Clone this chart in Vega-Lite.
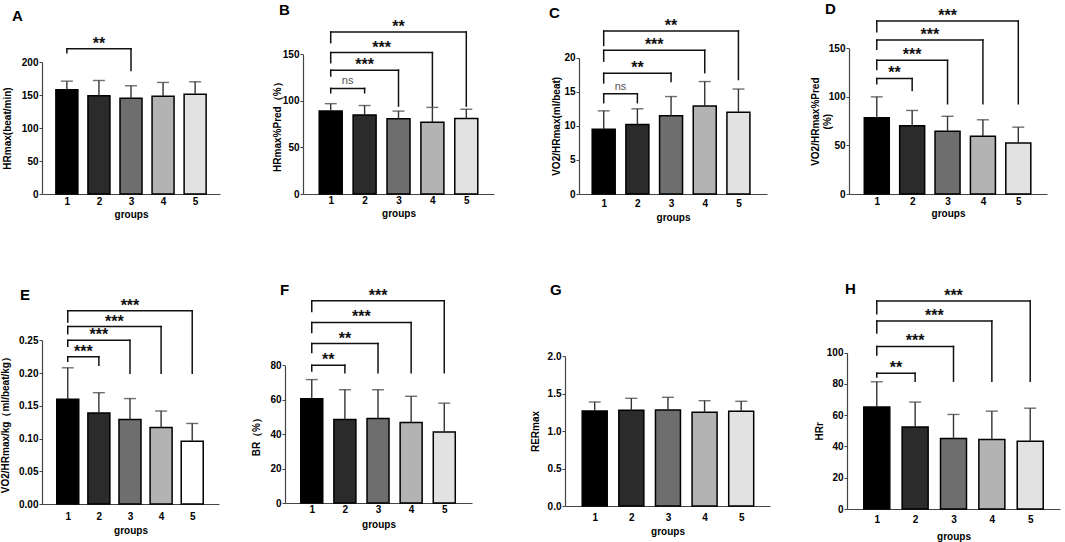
{
  "$schema": "https://vega.github.io/schema/vega-lite/v6.json",
  "background": "white",
  "padding": {"left": 0, "top": 2, "right": 5, "bottom": 5},
  "datasets": {
    "bars": [
      {"p": "A", "g": 1, "m": 158, "u": 171}, {"p": "A", "g": 2, "m": 149, "u": 172}, {"p": "A", "g": 3, "m": 145, "u": 164}, {"p": "A", "g": 4, "m": 148, "u": 169}, {"p": "A", "g": 5, "m": 151, "u": 170},
      {"p": "B", "g": 1, "m": 89, "u": 97}, {"p": "B", "g": 2, "m": 84.7, "u": 95}, {"p": "B", "g": 3, "m": 80.7, "u": 89}, {"p": "B", "g": 4, "m": 77, "u": 93}, {"p": "B", "g": 5, "m": 81, "u": 91},
      {"p": "C", "g": 1, "m": 9.5, "u": 12.2}, {"p": "C", "g": 2, "m": 10.2, "u": 12.5}, {"p": "C", "g": 3, "m": 11.5, "u": 14.3}, {"p": "C", "g": 4, "m": 12.9, "u": 16.5}, {"p": "C", "g": 5, "m": 12.0, "u": 15.4},
      {"p": "D", "g": 1, "m": 78.4, "u": 100}, {"p": "D", "g": 2, "m": 70.2, "u": 86}, {"p": "D", "g": 3, "m": 64.7, "u": 80}, {"p": "D", "g": 4, "m": 59.5, "u": 76.4}, {"p": "D", "g": 5, "m": 52.6, "u": 68.8},
      {"p": "E", "g": 1, "m": 0.160, "u": 0.208}, {"p": "E", "g": 2, "m": 0.139, "u": 0.170}, {"p": "E", "g": 3, "m": 0.129, "u": 0.161}, {"p": "E", "g": 4, "m": 0.117, "u": 0.142}, {"p": "E", "g": 5, "m": 0.096, "u": 0.123},
      {"p": "F", "g": 1, "m": 60.6, "u": 71.7}, {"p": "F", "g": 2, "m": 48.5, "u": 65.8}, {"p": "F", "g": 3, "m": 49.1, "u": 65.8}, {"p": "F", "g": 4, "m": 46.8, "u": 62}, {"p": "F", "g": 5, "m": 41.2, "u": 58},
      {"p": "G", "g": 1, "m": 1.267, "u": 1.387}, {"p": "G", "g": 2, "m": 1.276, "u": 1.436}, {"p": "G", "g": 3, "m": 1.28, "u": 1.449}, {"p": "G", "g": 4, "m": 1.249, "u": 1.404}, {"p": "G", "g": 5, "m": 1.262, "u": 1.396},
      {"p": "H", "g": 1, "m": 65.2, "u": 81.4}, {"p": "H", "g": 2, "m": 52.4, "u": 68.4}, {"p": "H", "g": 3, "m": 45.1, "u": 60.5}, {"p": "H", "g": 4, "m": 44.4, "u": 62.6}, {"p": "H", "g": 5, "m": 43.4, "u": 64.5}
    ],
    "brk": [
      {"p": "A", "g1": 1, "g2": 3, "top": 220, "lo1": 214, "lo2": 187, "label": "**"},
      {"p": "B", "g1": 1, "g2": 2, "top": 113.4, "lo1": 108.7, "lo2": 108.7, "label": "ns"},
      {"p": "B", "g1": 1, "g2": 3, "top": 133, "lo1": 126.7, "lo2": 94.4, "label": "***"},
      {"p": "B", "g1": 1, "g2": 4, "top": 151.8, "lo1": 141, "lo2": 94.4, "label": "***"},
      {"p": "B", "g1": 1, "g2": 5, "top": 174, "lo1": 162.5, "lo2": 94.4, "label": "**"},
      {"p": "C", "g1": 1, "g2": 2, "top": 14.7, "lo1": 13.4, "lo2": 13.4, "label": "ns"},
      {"p": "C", "g1": 1, "g2": 3, "top": 17.7, "lo1": 16.3, "lo2": 16.5, "label": "**"},
      {"p": "C", "g1": 1, "g2": 4, "top": 21.1, "lo1": 19.5, "lo2": 17.8, "label": "***"},
      {"p": "C", "g1": 1, "g2": 5, "top": 23.9, "lo1": 21.8, "lo2": 16.8, "label": "**"},
      {"p": "D", "g1": 1, "g2": 2, "top": 119, "lo1": 113.5, "lo2": 106.6, "label": "**"},
      {"p": "D", "g1": 1, "g2": 3, "top": 137.6, "lo1": 128.3, "lo2": 92.9, "label": "***"},
      {"p": "D", "g1": 1, "g2": 4, "top": 158.6, "lo1": 149, "lo2": 92.9, "label": "***"},
      {"p": "D", "g1": 1, "g2": 5, "top": 178, "lo1": 167, "lo2": 92.9, "label": "***"},
      {"p": "E", "g1": 1, "g2": 2, "top": 0.225, "lo1": 0.218, "lo2": 0.212, "label": "***"},
      {"p": "E", "g1": 1, "g2": 3, "top": 0.25, "lo1": 0.241, "lo2": 0.1995, "label": "***"},
      {"p": "E", "g1": 1, "g2": 4, "top": 0.271, "lo1": 0.26, "lo2": 0.1995, "label": "***"},
      {"p": "E", "g1": 1, "g2": 5, "top": 0.295, "lo1": 0.278, "lo2": 0.1995, "label": "***"},
      {"p": "F", "g1": 1, "g2": 2, "top": 80, "lo1": 76.7, "lo2": 75.7, "label": "**"},
      {"p": "F", "g1": 1, "g2": 3, "top": 92.6, "lo1": 87.4, "lo2": 75.7, "label": "**"},
      {"p": "F", "g1": 1, "g2": 4, "top": 104.9, "lo1": 99, "lo2": 75.7, "label": "***"},
      {"p": "F", "g1": 1, "g2": 5, "top": 117.5, "lo1": 111.3, "lo2": 75.7, "label": "***"},
      {"p": "H", "g1": 1, "g2": 2, "top": 86.8, "lo1": 84.4, "lo2": 81.8, "label": "**"},
      {"p": "H", "g1": 1, "g2": 3, "top": 104, "lo1": 98.5, "lo2": 81.8, "label": "***"},
      {"p": "H", "g1": 1, "g2": 4, "top": 120.3, "lo1": 112.6, "lo2": 81.8, "label": "***"},
      {"p": "H", "g1": 1, "g2": 5, "top": 133, "lo1": 125, "lo2": 81.8, "label": "***"}
    ]
  },
  "columns": 4,
  "align": "each",
  "bounds": "flush",
  "spacing": {"row": 82, "column": 0},
  "resolve": {"scale": {"color": "independent"}},
  "concat": [
    {
      "width": 243, "height": 179,
      "title": {"text": "A", "dx": -30, "dy": 13},
      "layer": [
        {
          "data": {"name": "bars"},
          "transform": [{"filter": "datum.p == 'A'"}],
          "layer": [
            {"mark": {"type": "bar", "orient": "vertical", "size": 22, "stroke": "#000", "strokeWidth": 1.5},
             "encoding": {
               "x": {"field": "g", "type": "quantitative", "scale": {"domain": [0.38, 5.62], "range": [0, 178], "nice": false, "zero": false}, "axis": {"values": [1, 2, 3, 4, 5], "format": "d", "title": "groups", "labelPadding": 2.5, "titlePadding": 3}},
               "y": {"field": "m", "type": "quantitative", "stack": null, "scale": {"domain": [0, 200], "range": [179, 47], "nice": false}, "axis": {"values": [0, 50, 100, 150, 200], "title": "HRmax(beat/min)", "titlePadding": 9}},
               "color": {"field": "g", "type": "ordinal", "scale": {"domain": [1, 2, 3, 4, 5], "range": ["#000000", "#2b2b2b", "#6e6e6e", "#b3b3b3", "#e2e2e2"]}, "legend": null}
             }},
            {"mark": {"type": "rule", "color": "#333", "strokeWidth": 1.4},
             "encoding": {"x": {"field": "g", "type": "quantitative"}, "y": {"field": "m", "type": "quantitative"}, "y2": {"field": "u"}}},
            {"mark": {"type": "tick", "orient": "horizontal", "size": 12, "thickness": 1.4, "color": "#333"},
             "encoding": {"x": {"field": "g", "type": "quantitative"}, "y": {"field": "u", "type": "quantitative"}}}
          ]
        },
        {
          "data": {"name": "brk"},
          "transform": [{"filter": "datum.p == 'A'"}, {"calculate": "(datum.g1 + datum.g2) / 2", "as": "mid"}],
          "layer": [
            {"mark": {"type": "rule", "color": "#111", "strokeWidth": 1.5, "strokeCap": "square"},
             "encoding": {"x": {"field": "g1", "type": "quantitative"}, "x2": {"field": "g2"}, "y": {"field": "top", "type": "quantitative"}}},
            {"mark": {"type": "rule", "color": "#111", "strokeWidth": 1.5, "strokeCap": "square"},
             "encoding": {"x": {"field": "g1", "type": "quantitative"}, "y": {"field": "top", "type": "quantitative"}, "y2": {"field": "lo1"}}},
            {"mark": {"type": "rule", "color": "#111", "strokeWidth": 1.5, "strokeCap": "square"},
             "encoding": {"x": {"field": "g2", "type": "quantitative"}, "y": {"field": "top", "type": "quantitative"}, "y2": {"field": "lo2"}}},
            {"transform": [{"filter": "datum.label != 'ns'"}],
             "mark": {"type": "text", "font": "Liberation Sans", "fontWeight": "bold", "fontSize": 16, "baseline": "alphabetic", "dy": 0, "color": "#111"},
             "encoding": {"x": {"field": "mid", "type": "quantitative"}, "y": {"field": "top", "type": "quantitative"}, "text": {"field": "label"}}}
          ]
        }
      ]
    },
    {
      "width": 280, "height": 179,
      "title": {"text": "B", "dx": -6, "dy": 7},
      "layer": [
        {
          "data": {"name": "bars"},
          "transform": [{"filter": "datum.p == 'B'"}],
          "layer": [
            {"mark": {"type": "bar", "orient": "vertical", "size": 23, "stroke": "#000", "strokeWidth": 1.5},
             "encoding": {
               "x": {"field": "g", "type": "quantitative", "scale": {"domain": [0.33, 5.67], "range": [18, 209], "nice": false, "zero": false}, "axis": {"values": [1, 2, 3, 4, 5], "format": "d", "title": "groups", "labelPadding": 1.5, "titlePadding": 3}},
               "y": {"field": "m", "type": "quantitative", "stack": null, "scale": {"domain": [0, 150], "range": [179, 39.3], "nice": false}, "axis": {"values": [0, 50, 100, 150], "title": "HRmax%Pred（%）", "titlePadding": 0, "offset": -18}},
               "color": {"field": "g", "type": "ordinal", "scale": {"domain": [1, 2, 3, 4, 5], "range": ["#000000", "#2b2b2b", "#6e6e6e", "#b3b3b3", "#e2e2e2"]}, "legend": null}
             }},
            {"mark": {"type": "rule", "color": "#333", "strokeWidth": 1.4},
             "encoding": {"x": {"field": "g", "type": "quantitative"}, "y": {"field": "m", "type": "quantitative"}, "y2": {"field": "u"}}},
            {"mark": {"type": "tick", "orient": "horizontal", "size": 12, "thickness": 1.4, "color": "#333"},
             "encoding": {"x": {"field": "g", "type": "quantitative"}, "y": {"field": "u", "type": "quantitative"}}}
          ]
        },
        {
          "data": {"name": "brk"},
          "transform": [{"filter": "datum.p == 'B'"}, {"calculate": "(datum.g1 + datum.g2) / 2", "as": "mid"}],
          "layer": [
            {"mark": {"type": "rule", "color": "#111", "strokeWidth": 1.5, "strokeCap": "square"},
             "encoding": {"x": {"field": "g1", "type": "quantitative"}, "x2": {"field": "g2"}, "y": {"field": "top", "type": "quantitative"}}},
            {"mark": {"type": "rule", "color": "#111", "strokeWidth": 1.5, "strokeCap": "square"},
             "encoding": {"x": {"field": "g1", "type": "quantitative"}, "y": {"field": "top", "type": "quantitative"}, "y2": {"field": "lo1"}}},
            {"mark": {"type": "rule", "color": "#111", "strokeWidth": 1.5, "strokeCap": "square"},
             "encoding": {"x": {"field": "g2", "type": "quantitative"}, "y": {"field": "top", "type": "quantitative"}, "y2": {"field": "lo2"}}},
            {"transform": [{"filter": "datum.label != 'ns'"}],
             "mark": {"type": "text", "font": "Liberation Sans", "fontWeight": "bold", "fontSize": 16, "baseline": "alphabetic", "dy": 0, "color": "#111"},
             "encoding": {"x": {"field": "mid", "type": "quantitative"}, "y": {"field": "top", "type": "quantitative"}, "text": {"field": "label"}}},
            {"transform": [{"filter": "datum.label == 'ns'"}],
             "mark": {"type": "text", "font": "Liberation Sans", "fontSize": 11, "baseline": "alphabetic", "dy": -4, "color": "#555"},
             "encoding": {"x": {"field": "mid", "type": "quantitative"}, "y": {"field": "top", "type": "quantitative"}, "text": {"field": "label"}}}
          ]
        }
      ]
    },
    {
      "width": 282, "height": 179,
      "title": {"text": "C", "dx": -16, "dy": 10},
      "layer": [
        {
          "data": {"name": "bars"},
          "transform": [{"filter": "datum.p == 'C'"}],
          "layer": [
            {"mark": {"type": "bar", "orient": "vertical", "size": 23, "stroke": "#000", "strokeWidth": 1.5},
             "encoding": {
               "x": {"field": "g", "type": "quantitative", "scale": {"domain": [0.415, 5.7], "range": [14, 202], "nice": false, "zero": false}, "axis": {"values": [1, 2, 3, 4, 5], "format": "d", "title": "groups", "labelPadding": 4.5, "titlePadding": 3.5}},
               "y": {"field": "m", "type": "quantitative", "stack": null, "scale": {"domain": [0, 20], "range": [179, 42.7], "nice": false}, "axis": {"values": [0, 5, 10, 15, 20], "title": "VO2/HRmax(ml/beat)", "titlePadding": 2, "offset": -14}},
               "color": {"field": "g", "type": "ordinal", "scale": {"domain": [1, 2, 3, 4, 5], "range": ["#000000", "#2b2b2b", "#6e6e6e", "#b3b3b3", "#e2e2e2"]}, "legend": null}
             }},
            {"mark": {"type": "rule", "color": "#333", "strokeWidth": 1.4},
             "encoding": {"x": {"field": "g", "type": "quantitative"}, "y": {"field": "m", "type": "quantitative"}, "y2": {"field": "u"}}},
            {"mark": {"type": "tick", "orient": "horizontal", "size": 12, "thickness": 1.4, "color": "#333"},
             "encoding": {"x": {"field": "g", "type": "quantitative"}, "y": {"field": "u", "type": "quantitative"}}}
          ]
        },
        {
          "data": {"name": "brk"},
          "transform": [{"filter": "datum.p == 'C'"}, {"calculate": "(datum.g1 + datum.g2) / 2", "as": "mid"}],
          "layer": [
            {"mark": {"type": "rule", "color": "#111", "strokeWidth": 1.5, "strokeCap": "square"},
             "encoding": {"x": {"field": "g1", "type": "quantitative"}, "x2": {"field": "g2"}, "y": {"field": "top", "type": "quantitative"}}},
            {"mark": {"type": "rule", "color": "#111", "strokeWidth": 1.5, "strokeCap": "square"},
             "encoding": {"x": {"field": "g1", "type": "quantitative"}, "y": {"field": "top", "type": "quantitative"}, "y2": {"field": "lo1"}}},
            {"mark": {"type": "rule", "color": "#111", "strokeWidth": 1.5, "strokeCap": "square"},
             "encoding": {"x": {"field": "g2", "type": "quantitative"}, "y": {"field": "top", "type": "quantitative"}, "y2": {"field": "lo2"}}},
            {"transform": [{"filter": "datum.label != 'ns'"}],
             "mark": {"type": "text", "font": "Liberation Sans", "fontWeight": "bold", "fontSize": 16, "baseline": "alphabetic", "dy": 0, "color": "#111"},
             "encoding": {"x": {"field": "mid", "type": "quantitative"}, "y": {"field": "top", "type": "quantitative"}, "text": {"field": "label"}}},
            {"transform": [{"filter": "datum.label == 'ns'"}],
             "mark": {"type": "text", "font": "Liberation Sans", "fontSize": 11, "baseline": "alphabetic", "dy": -4, "color": "#555"},
             "encoding": {"x": {"field": "mid", "type": "quantitative"}, "y": {"field": "top", "type": "quantitative"}, "text": {"field": "label"}}}
          ]
        }
      ]
    },
    {
      "width": 213, "height": 179,
      "title": {"text": "D", "dx": -22, "dy": 13},
      "layer": [
        {
          "data": {"name": "bars"},
          "transform": [{"filter": "datum.p == 'D'"}],
          "layer": [
            {"mark": {"type": "bar", "orient": "vertical", "size": 25, "stroke": "#000", "strokeWidth": 1.5},
             "encoding": {
               "x": {"field": "g", "type": "quantitative", "scale": {"domain": [0.356, 5.67], "range": [2, 200], "nice": false, "zero": false}, "axis": {"values": [1, 2, 3, 4, 5], "format": "d", "title": "groups", "labelPadding": 2.5, "titlePadding": 2}},
               "y": {"field": "m", "type": "quantitative", "stack": null, "scale": {"domain": [0, 150], "range": [179, 33.3], "nice": false}, "axis": {"values": [0, 50, 100, 150], "title": ["VO2/HRmax%Pred", "(%)"], "titlePadding": -4, "offset": -2}},
               "color": {"field": "g", "type": "ordinal", "scale": {"domain": [1, 2, 3, 4, 5], "range": ["#000000", "#2b2b2b", "#6e6e6e", "#b3b3b3", "#e2e2e2"]}, "legend": null}
             }},
            {"mark": {"type": "rule", "color": "#333", "strokeWidth": 1.4},
             "encoding": {"x": {"field": "g", "type": "quantitative"}, "y": {"field": "m", "type": "quantitative"}, "y2": {"field": "u"}}},
            {"mark": {"type": "tick", "orient": "horizontal", "size": 12, "thickness": 1.4, "color": "#333"},
             "encoding": {"x": {"field": "g", "type": "quantitative"}, "y": {"field": "u", "type": "quantitative"}}}
          ]
        },
        {
          "data": {"name": "brk"},
          "transform": [{"filter": "datum.p == 'D'"}, {"calculate": "(datum.g1 + datum.g2) / 2", "as": "mid"}],
          "layer": [
            {"mark": {"type": "rule", "color": "#111", "strokeWidth": 1.5, "strokeCap": "square"},
             "encoding": {"x": {"field": "g1", "type": "quantitative"}, "x2": {"field": "g2"}, "y": {"field": "top", "type": "quantitative"}}},
            {"mark": {"type": "rule", "color": "#111", "strokeWidth": 1.5, "strokeCap": "square"},
             "encoding": {"x": {"field": "g1", "type": "quantitative"}, "y": {"field": "top", "type": "quantitative"}, "y2": {"field": "lo1"}}},
            {"mark": {"type": "rule", "color": "#111", "strokeWidth": 1.5, "strokeCap": "square"},
             "encoding": {"x": {"field": "g2", "type": "quantitative"}, "y": {"field": "top", "type": "quantitative"}, "y2": {"field": "lo2"}}},
            {"transform": [{"filter": "datum.label != 'ns'"}],
             "mark": {"type": "text", "font": "Liberation Sans", "fontWeight": "bold", "fontSize": 16, "baseline": "alphabetic", "dy": 0, "color": "#111"},
             "encoding": {"x": {"field": "mid", "type": "quantitative"}, "y": {"field": "top", "type": "quantitative"}, "text": {"field": "label"}}}
          ]
        }
      ]
    },
    {
      "width": 243, "height": 228,
      "title": {"text": "E", "dx": -22, "dy": 31},
      "layer": [
        {
          "data": {"name": "bars"},
          "transform": [{"filter": "datum.p == 'E'"}],
          "layer": [
            {"mark": {"type": "bar", "orient": "vertical", "size": 22, "stroke": "#000", "strokeWidth": 1.5},
             "encoding": {
               "x": {"field": "g", "type": "quantitative", "scale": {"domain": [0.333, 5.7], "range": [0, 177], "nice": false, "zero": false}, "axis": {"values": [1, 2, 3, 4, 5], "format": "d", "title": "groups", "labelPadding": 7.5, "titlePadding": 3.5}},
               "y": {"field": "m", "type": "quantitative", "stack": null, "scale": {"domain": [0, 0.25], "range": [228, 64.3], "nice": false}, "axis": {"values": [0, 0.05, 0.1, 0.15, 0.2, 0.25], "format": ".2f", "title": "VO2/HRmax/kg（ml/beat/kg）", "titlePadding": 8}},
               "color": {"field": "g", "type": "ordinal", "scale": {"domain": [1, 2, 3, 4, 5], "range": ["#000000", "#2b2b2b", "#6e6e6e", "#b3b3b3", "#ffffff"]}, "legend": null}
             }},
            {"mark": {"type": "rule", "color": "#333", "strokeWidth": 1.4},
             "encoding": {"x": {"field": "g", "type": "quantitative"}, "y": {"field": "m", "type": "quantitative"}, "y2": {"field": "u"}}},
            {"mark": {"type": "tick", "orient": "horizontal", "size": 12, "thickness": 1.4, "color": "#333"},
             "encoding": {"x": {"field": "g", "type": "quantitative"}, "y": {"field": "u", "type": "quantitative"}}}
          ]
        },
        {
          "data": {"name": "brk"},
          "transform": [{"filter": "datum.p == 'E'"}, {"calculate": "(datum.g1 + datum.g2) / 2", "as": "mid"}],
          "layer": [
            {"mark": {"type": "rule", "color": "#111", "strokeWidth": 1.5, "strokeCap": "square"},
             "encoding": {"x": {"field": "g1", "type": "quantitative"}, "x2": {"field": "g2"}, "y": {"field": "top", "type": "quantitative"}}},
            {"mark": {"type": "rule", "color": "#111", "strokeWidth": 1.5, "strokeCap": "square"},
             "encoding": {"x": {"field": "g1", "type": "quantitative"}, "y": {"field": "top", "type": "quantitative"}, "y2": {"field": "lo1"}}},
            {"mark": {"type": "rule", "color": "#111", "strokeWidth": 1.5, "strokeCap": "square"},
             "encoding": {"x": {"field": "g2", "type": "quantitative"}, "y": {"field": "top", "type": "quantitative"}, "y2": {"field": "lo2"}}},
            {"transform": [{"filter": "datum.label != 'ns'"}],
             "mark": {"type": "text", "font": "Liberation Sans", "fontWeight": "bold", "fontSize": 16, "baseline": "alphabetic", "dy": 0, "color": "#111"},
             "encoding": {"x": {"field": "mid", "type": "quantitative"}, "y": {"field": "top", "type": "quantitative"}, "text": {"field": "label"}}}
          ]
        }
      ]
    },
    {
      "width": 280, "height": 227,
      "title": {"text": "F", "dx": -5, "dy": 26},
      "layer": [
        {
          "data": {"name": "bars"},
          "transform": [{"filter": "datum.p == 'F'"}],
          "layer": [
            {"mark": {"type": "bar", "orient": "vertical", "size": 22, "stroke": "#000", "strokeWidth": 1.5},
             "encoding": {
               "x": {"field": "g", "type": "quantitative", "scale": {"domain": [0.343, 5.686], "range": [0, 187], "nice": false, "zero": false}, "axis": {"values": [1, 2, 3, 4, 5], "format": "d", "title": "groups", "labelPadding": 1.5, "titlePadding": 4.5}},
               "y": {"field": "m", "type": "quantitative", "stack": null, "scale": {"domain": [0, 80], "range": [227, 89.3], "nice": false}, "axis": {"values": [0, 20, 40, 60, 80], "title": "BR（%）", "titlePadding": 8}},
               "color": {"field": "g", "type": "ordinal", "scale": {"domain": [1, 2, 3, 4, 5], "range": ["#000000", "#2b2b2b", "#6e6e6e", "#b3b3b3", "#e2e2e2"]}, "legend": null}
             }},
            {"mark": {"type": "rule", "color": "#333", "strokeWidth": 1.4},
             "encoding": {"x": {"field": "g", "type": "quantitative"}, "y": {"field": "m", "type": "quantitative"}, "y2": {"field": "u"}}},
            {"mark": {"type": "tick", "orient": "horizontal", "size": 12, "thickness": 1.4, "color": "#333"},
             "encoding": {"x": {"field": "g", "type": "quantitative"}, "y": {"field": "u", "type": "quantitative"}}}
          ]
        },
        {
          "data": {"name": "brk"},
          "transform": [{"filter": "datum.p == 'F'"}, {"calculate": "(datum.g1 + datum.g2) / 2", "as": "mid"}],
          "layer": [
            {"mark": {"type": "rule", "color": "#111", "strokeWidth": 1.5, "strokeCap": "square"},
             "encoding": {"x": {"field": "g1", "type": "quantitative"}, "x2": {"field": "g2"}, "y": {"field": "top", "type": "quantitative"}}},
            {"mark": {"type": "rule", "color": "#111", "strokeWidth": 1.5, "strokeCap": "square"},
             "encoding": {"x": {"field": "g1", "type": "quantitative"}, "y": {"field": "top", "type": "quantitative"}, "y2": {"field": "lo1"}}},
            {"mark": {"type": "rule", "color": "#111", "strokeWidth": 1.5, "strokeCap": "square"},
             "encoding": {"x": {"field": "g2", "type": "quantitative"}, "y": {"field": "top", "type": "quantitative"}, "y2": {"field": "lo2"}}},
            {"transform": [{"filter": "datum.label != 'ns'"}],
             "mark": {"type": "text", "font": "Liberation Sans", "fontWeight": "bold", "fontSize": 16, "baseline": "alphabetic", "dy": 0, "color": "#111"},
             "encoding": {"x": {"field": "mid", "type": "quantitative"}, "y": {"field": "top", "type": "quantitative"}, "text": {"field": "label"}}}
          ]
        }
      ]
    },
    {
      "width": 282, "height": 230,
      "title": {"text": "G", "dx": -15, "dy": 26},
      "data": {"name": "bars"},
      "transform": [{"filter": "datum.p == 'G'"}],
      "layer": [
        {"mark": {"type": "bar", "orient": "vertical", "size": 25, "stroke": "#000", "strokeWidth": 1.5},
         "encoding": {
           "x": {"field": "g", "type": "quantitative", "scale": {"domain": [0.325, 5.65], "range": [0, 205], "nice": false, "zero": false}, "axis": {"values": [1, 2, 3, 4, 5], "format": "d", "title": "groups", "labelPadding": 6.5, "titlePadding": 3.5}},
           "y": {"field": "m", "type": "quantitative", "stack": null, "scale": {"domain": [0, 2], "range": [230, 80], "nice": false}, "axis": {"values": [0, 0.5, 1, 1.5, 2], "format": ".1f", "title": "RERmax", "titlePadding": 7}},
           "color": {"field": "g", "type": "ordinal", "scale": {"domain": [1, 2, 3, 4, 5], "range": ["#000000", "#2b2b2b", "#6e6e6e", "#b3b3b3", "#e2e2e2"]}, "legend": null}
         }},
        {"mark": {"type": "rule", "color": "#333", "strokeWidth": 1.4},
         "encoding": {"x": {"field": "g", "type": "quantitative"}, "y": {"field": "m", "type": "quantitative"}, "y2": {"field": "u"}}},
        {"mark": {"type": "tick", "orient": "horizontal", "size": 12, "thickness": 1.4, "color": "#333"},
         "encoding": {"x": {"field": "g", "type": "quantitative"}, "y": {"field": "u", "type": "quantitative"}}}
      ]
    },
    {
      "width": 213, "height": 233,
      "title": {"text": "H", "dx": -2, "dy": 25},
      "layer": [
        {
          "data": {"name": "bars"},
          "transform": [{"filter": "datum.p == 'H'"}],
          "layer": [
            {"mark": {"type": "bar", "orient": "vertical", "size": 26, "stroke": "#000", "strokeWidth": 1.5},
             "encoding": {
               "x": {"field": "g", "type": "quantitative", "scale": {"domain": [0.354, 5.646], "range": [0, 213], "nice": false, "zero": false}, "axis": {"values": [1, 2, 3, 4, 5], "format": "d", "title": "groups", "labelPadding": 5.5, "titlePadding": 6.5}},
               "y": {"field": "m", "type": "quantitative", "stack": null, "scale": {"domain": [0, 100], "range": [233, 76.7], "nice": false}, "axis": {"values": [0, 20, 40, 60, 80, 100], "title": "HRr", "titlePadding": 2}},
               "color": {"field": "g", "type": "ordinal", "scale": {"domain": [1, 2, 3, 4, 5], "range": ["#000000", "#2b2b2b", "#6e6e6e", "#b3b3b3", "#e2e2e2"]}, "legend": null}
             }},
            {"mark": {"type": "rule", "color": "#333", "strokeWidth": 1.4},
             "encoding": {"x": {"field": "g", "type": "quantitative"}, "y": {"field": "m", "type": "quantitative"}, "y2": {"field": "u"}}},
            {"mark": {"type": "tick", "orient": "horizontal", "size": 12, "thickness": 1.4, "color": "#333"},
             "encoding": {"x": {"field": "g", "type": "quantitative"}, "y": {"field": "u", "type": "quantitative"}}}
          ]
        },
        {
          "data": {"name": "brk"},
          "transform": [{"filter": "datum.p == 'H'"}, {"calculate": "(datum.g1 + datum.g2) / 2", "as": "mid"}],
          "layer": [
            {"mark": {"type": "rule", "color": "#111", "strokeWidth": 1.5, "strokeCap": "square"},
             "encoding": {"x": {"field": "g1", "type": "quantitative"}, "x2": {"field": "g2"}, "y": {"field": "top", "type": "quantitative"}}},
            {"mark": {"type": "rule", "color": "#111", "strokeWidth": 1.5, "strokeCap": "square"},
             "encoding": {"x": {"field": "g1", "type": "quantitative"}, "y": {"field": "top", "type": "quantitative"}, "y2": {"field": "lo1"}}},
            {"mark": {"type": "rule", "color": "#111", "strokeWidth": 1.5, "strokeCap": "square"},
             "encoding": {"x": {"field": "g2", "type": "quantitative"}, "y": {"field": "top", "type": "quantitative"}, "y2": {"field": "lo2"}}},
            {"transform": [{"filter": "datum.label != 'ns'"}],
             "mark": {"type": "text", "font": "Liberation Sans", "fontWeight": "bold", "fontSize": 16, "baseline": "alphabetic", "dy": 0, "color": "#111"},
             "encoding": {"x": {"field": "mid", "type": "quantitative"}, "y": {"field": "top", "type": "quantitative"}, "text": {"field": "label"}}}
          ]
        }
      ]
    }
  ],
  "config": {
    "font": "Liberation Sans",
    "view": {"stroke": null},
    "axis": {
      "grid": false,
      "domainColor": "#444",
      "domainWidth": 1.2,
      "tickColor": "#444",
      "labelColor": "#000",
      "labelFont": "Liberation Sans",
      "labelFontWeight": "bold",
      "labelFontSize": 10,
      "labelFlush": false,
      "titleColor": "#000",
      "titleFont": "Liberation Sans",
      "titleFontWeight": "bold",
      "titleFontSize": 10
    },
    "axisX": {"ticks": false, "labelAngle": 0},
    "axisY": {"tickSize": 3, "labelPadding": 1},
    "title": {"font": "Liberation Sans", "fontSize": 15, "fontWeight": "bold", "color": "#000", "anchor": "start", "frame": "group", "offset": 0}
  }
}
